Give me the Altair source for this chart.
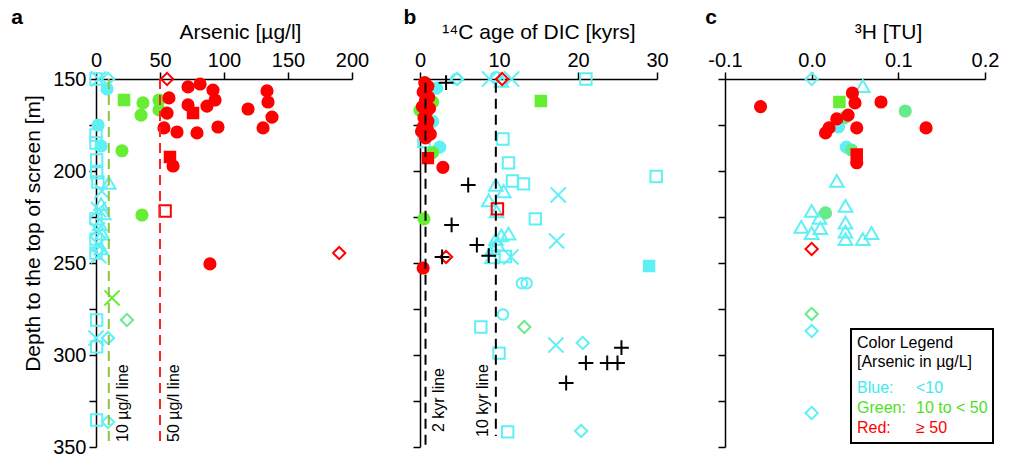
import altair as alt
import pandas as pd

# ---------------- data (x value, depth in m) ----------------
# Panel a: Arsenic [ug/l]
a_blue_osquare = [(0, 150), (0, 180.4), (0, 184.8), (0.5, 194), (0.5, 201), (1.5, 206), (0, 226),
                  (0, 237), (0, 244.6), (0.5, 281), (0.5, 295.6), (0.5, 335.3)]
a_blue_x = [(2, 150), (4.5, 211), (2, 221), (1, 232), (2, 240), (2, 246), (0, 290.8)]
a_blue_odiamond = [(9.4, 150), (9.4, 290.8), (9.4, 336.4)]
a_blue_otriangle = [(10, 206.5), (4, 218), (6, 223), (3, 229), (5, 234), (4, 242)]
a_blue_fcircle = [(8.6, 155.4), (1.6, 175), (3.9, 186.4)]
a_green_fsquare = [(21.9, 161.4)]
a_green_fcircle = [(36.7, 163), (49.2, 161.4), (35.2, 169.6), (49.2, 166.8), (20.3, 189), (35.9, 223.9)]
a_green_x = [(12.5, 269)]
a_mint_odiamond = [(24.2, 281)]
a_red_fcircle = [(71.9, 154.3), (81.3, 152.7), (91.4, 156), (133.6, 156.5), (57, 160.3), (71.9, 164.1),
                 (86.7, 164.7), (93, 161.4), (134.4, 162.5), (118.8, 166.3), (55.5, 168.5), (137.5, 170.7),
                 (53.1, 176.6), (63.3, 178.8), (78.9, 179.3), (95.3, 176.1), (130.5, 176.6), (60.2, 197.3),
                 (89, 250.5)]
a_red_fsquare = [(75.8, 168.5), (57.8, 192.4)]
a_red_odiamond = [(55.5, 150), (190, 244.6)]
a_red_osquare = [(54, 221.7)]
a_limits = [10, 50]
a_limit_labels = ["10 µg/l line", "50 µg/l line"]

# Panel b: 14C age of DIC [kyrs]
b_blue_odiamond = [(4.7, 150), (20.6, 293.5), (20.4, 341.3)]
b_blue_ocircle = [(4.6, 150), (9.6, 149), (12.9, 261), (13.5, 261), (10.5, 278)]
b_blue_x = [(8.8, 150), (11.6, 150), (17.5, 213), (17.3, 238), (11.5, 246.7), (17.2, 294.6)]
b_blue_otriangle = [(10.3, 151), (9.6, 207.6), (8.7, 216), (10.6, 211), (9.7, 222), (9.6, 237),
                    (10.3, 235), (11.2, 234), (9.2, 242), (9.8, 240), (9.1, 247)]
b_blue_osquare = [(21, 150), (0.5, 184), (10.5, 182.6), (11.2, 195.6), (11.7, 205.4), (13.1, 207),
                  (14.6, 226), (29.9, 203), (10.8, 246.5), (7.7, 284.8), (10, 299), (11.1, 341.8)]
b_blue_fcircle = [(2.1, 155), (1.6, 173), (2.5, 187)]
b_blue_fsquare = [(29, 251.6)]
b_green_fcircle = [(0, 167), (1.6, 162.5), (1.6, 190), (0.5, 226)]
b_green_fsquare = [(15.3, 162)]
b_mint_odiamond = [(13.2, 284.8)]
b_red_fcircle = [(0.6, 152), (1.0, 154), (0.4, 157), (1.1, 160), (0.7, 162), (0.3, 165), (1.2, 166),
                 (0.8, 168), (0.5, 171), (1.0, 173), (0.4, 176), (0.9, 177), (0.2, 178.5), (1.3, 180),
                 (0.7, 182), (2.9, 198), (0.4, 252.7)]
b_red_fsquare = [(1.0, 193)]
b_red_odiamond = [(10.4, 150), (3.3, 246.7)]
b_red_osquare = [(9.8, 220.6)]
b_black_plus = [(3.3, 152), (6.1, 207.6), (4, 229.3), (7.2, 240.2), (2.8, 246.7), (8.7, 246),
                (25.5, 296), (21, 304.3), (23.7, 304.3), (25, 304.3), (18.5, 315.2)]
b_limits = [0.7, 9.6]
b_limit_labels = ["2 kyr line", "10 kyr line"]

# Panel c: 3H [TU]
c_blue_odiamond = [(0, 150), (0, 287), (0, 331.5)]
c_blue_otriangle = [(0.059, 153.8), (0.029, 205.4), (0.039, 219), (0.0, 221.7), (0.009, 225.5),
                    (-0.012, 230.4), (0.010, 231), (0.0, 233.7), (0.039, 228), (0.039, 233),
                    (0.039, 237), (0.059, 237), (0.069, 233.7)]
c_blue_fcircle = [(0.031, 176), (0.040, 187)]
c_green_fsquare = [(0.032, 162.5)]
c_mint_fcircle = [(0.038, 171), (0.108, 167.4), (0.046, 188.6), (0.016, 222.8)]
c_mint_odiamond = [(0, 277.7)]
c_red_fcircle = [(0.047, 157.6), (0.050, 163), (0.080, 162.5), (-0.059, 165), (0.042, 169.6),
                 (0.029, 171.7), (0.052, 176.6), (0.132, 176.6), (0.020, 176.6), (0.016, 179.3),
                 (0.052, 195.5)]
c_red_fsquare = [(0.052, 191)]
c_red_odiamond = [(0, 242.4)]

depth_ticks = [150, 175, 200, 225, 250, 275, 300, 325, 350]

# ---------------- styles ----------------
GROUPS = ["blue", "green", "mint", "red", "black"]
GROUP_COLORS = ["#5EF0F5", "#66EE33", "#66EB8C", "#FF0000", "#000000"]
MARKERS = ["fcircle", "fsquare", "osquare", "odiamond", "otriangle", "ocircle", "x", "plus"]
SHAPES = ["circle", "square", "square", "diamond", "triangle-up", "circle",
          "M-1,-1L1,1M-1,1L1,-1", "M-1,0L1,0M0,-1L0,1"]
SIZES = [125, 110, 130, 150, 185, 110, 230, 220]
FONT = "Liberation Sans"


def build(series):
    rows = []
    for rank, (group, marker, pts) in enumerate(series):
        for x, d in pts:
            rows.append({"x": x, "depth": d, "group": group, "marker": marker,
                         "fillkey": group if marker.startswith("f") else "none",
                         "rank": GROUPS.index(group) * 100 + rank})
    return pd.DataFrame(rows).sort_values("rank", kind="stable")


df_a = build([("blue", "osquare", a_blue_osquare), ("blue", "x", a_blue_x),
              ("blue", "odiamond", a_blue_odiamond), ("blue", "otriangle", a_blue_otriangle),
              ("blue", "fcircle", a_blue_fcircle), ("green", "fsquare", a_green_fsquare),
              ("green", "fcircle", a_green_fcircle), ("green", "x", a_green_x),
              ("mint", "odiamond", a_mint_odiamond), ("red", "fcircle", a_red_fcircle),
              ("red", "fsquare", a_red_fsquare), ("red", "odiamond", a_red_odiamond),
              ("red", "osquare", a_red_osquare)])
df_b = build([("blue", "odiamond", b_blue_odiamond), ("blue", "ocircle", b_blue_ocircle),
              ("blue", "x", b_blue_x), ("blue", "otriangle", b_blue_otriangle),
              ("blue", "osquare", b_blue_osquare), ("blue", "fcircle", b_blue_fcircle),
              ("blue", "fsquare", b_blue_fsquare), ("green", "fcircle", b_green_fcircle),
              ("green", "fsquare", b_green_fsquare), ("mint", "odiamond", b_mint_odiamond),
              ("red", "fcircle", b_red_fcircle), ("red", "fsquare", b_red_fsquare),
              ("red", "odiamond", b_red_odiamond), ("red", "osquare", b_red_osquare),
              ("black", "plus", b_black_plus)])
df_c = build([("blue", "odiamond", c_blue_odiamond), ("blue", "otriangle", c_blue_otriangle),
              ("blue", "fcircle", c_blue_fcircle), ("green", "fsquare", c_green_fsquare),
              ("mint", "fcircle", c_mint_fcircle), ("mint", "odiamond", c_mint_odiamond),
              ("red", "fcircle", c_red_fcircle), ("red", "fsquare", c_red_fsquare),
              ("red", "odiamond", c_red_odiamond)])

YSCALE = alt.Scale(domain=[150, 350], reverse=True, nice=False, zero=False)
H = 368


def points(df, xscale, xaxis, yaxis):
    return alt.Chart(df).mark_point(opacity=1, strokeWidth=2).encode(
        x=alt.X("x:Q", scale=xscale, axis=xaxis),
        y=alt.Y("depth:Q", scale=YSCALE, axis=yaxis),
        shape=alt.Shape("marker:N", scale=alt.Scale(domain=MARKERS, range=SHAPES), legend=None),
        size=alt.Size("marker:N", scale=alt.Scale(type="ordinal", domain=MARKERS, range=SIZES),
                      legend=None),
        stroke=alt.Stroke("group:N", scale=alt.Scale(domain=GROUPS, range=GROUP_COLORS), legend=None),
        fill=alt.Fill("fillkey:N", scale=alt.Scale(domain=GROUPS + ["none"],
                                                   range=GROUP_COLORS + ["transparent"]), legend=None),
        order=alt.Order("rank:Q"),
    )


def dashed(value, color, top=150, bottom=350):
    d = pd.DataFrame({"x": [value], "depth": [top], "depth2": [bottom]})
    return alt.Chart(d).mark_rule(color=color, strokeWidth=2, strokeDash=[10, 6]).encode(
        x="x:Q", y="depth:Q", y2="depth2:Q")


def line_label(value, text, dx, dy, depth=350):
    d = pd.DataFrame({"x": [value], "depth": [depth], "t": [text]})
    return alt.Chart(d).mark_text(angle=270, align="left", baseline="middle", dx=dx, dy=dy,
                                  fontSize=16, font=FONT, color="black").encode(
        x="x:Q", y="depth:Q", text="t:N")


def fixed_text(text, x, y, size=16, color="black", bold=False, align="left"):
    d = pd.DataFrame({"t": [text]})
    return alt.Chart(d).mark_text(align=align, baseline="middle", fontSize=size, font=FONT,
                                  color=color, fontWeight="bold" if bold else "normal").encode(
        text="t:N", x=alt.value(x), y=alt.value(y))


y_axis_a = alt.Axis(values=depth_ticks, labelExpr="datum.value % 50 == 0 ? datum.label : ''",
                    title="Depth to the top of screen [m]", titleX=-63, titleY=154,
                    titleBaseline="middle", titleAlign="center", titleAngle=270, labelPadding=3)
y_axis_other = alt.Axis(values=depth_ticks, labels=False, title=None)

# Panel a
anchor = alt.Chart(pd.DataFrame({"k": [0]})).mark_rect(opacity=0).encode(
    x=alt.value(-96), x2=alt.value(-95), y=alt.value(-79), y2=alt.value(-78))
pa = alt.layer(
    points(df_a, alt.Scale(domain=[0, 200], nice=False, zero=False),
           alt.Axis(orient="top", values=[0, 50, 100, 150, 200], title="Arsenic [µg/l]",
                    titleX=144, titleY=-41, titleBaseline="alphabetic", titleAlign="center",
                    labelPadding=2), y_axis_a),
    dashed(a_limits[0], "#8CC63F"), dashed(a_limits[1], "#FF2020"),
    line_label(a_limits[0], a_limit_labels[0], 5, 14),
    line_label(a_limits[1], a_limit_labels[1], 5, 14),
    fixed_text("a", -79, -61, size=21, bold=True, align="center"),
    anchor,
).properties(width=256, height=H)

# Panel b
pb = alt.layer(
    points(df_b, alt.Scale(domain=[0, 30], nice=False, zero=False),
           alt.Axis(orient="top", values=[0, 10, 20, 30], title="¹⁴C age of DIC [kyrs]",
                    titleY=-41, titleBaseline="alphabetic", titleAlign="center", labelPadding=2),
           y_axis_other),
    dashed(b_limits[0], "black", 152, 350), dashed(b_limits[1], "black", 152, 344),
    line_label(b_limits[0], b_limit_labels[0], 15, 13),
    line_label(b_limits[1], b_limit_labels[1], 10, -13),
    fixed_text("b", -10, -61, size=21, bold=True, align="center"),
).properties(width=237, height=H)

# Panel c with color legend box
legend_box = alt.Chart(pd.DataFrame({"k": [0]})).mark_rect(
    fill="white", stroke="black", strokeWidth=2).encode(
    x=alt.value(126), x2=alt.value(268), y=alt.value(250), y2=alt.value(364))
legend_rows = [("Color Legend", "", "black"), ("[Arsenic in µg/L]", "", "black"),
               ("Blue:", "<10", "#3FE8F0"), ("Green:", "10 to < 50", "#4FE01F"),
               ("Red:", "≥ 50", "#FF0000")]
legend_y = [264, 283, 309, 329, 349]
legend_layers = [legend_box]
for (lab, val, col), yy in zip(legend_rows, legend_y):
    legend_layers.append(fixed_text(lab, 132, yy, size=16, color=col))
    if val:
        legend_layers.append(fixed_text(val, 191, yy, size=16, color=col))

pc = alt.layer(
    points(df_c, alt.Scale(domain=[-0.1, 0.2], nice=False, zero=False),
           alt.Axis(orient="top", values=[-0.1, 0, 0.1, 0.2], title="³H [TU]",
                    labelExpr="datum.value < 0 ? '-' + format(-datum.value, '.1f') : format(datum.value, '.1f')",
                    titleX=163, titleY=-41, titleBaseline="alphabetic", titleAlign="center",
                    labelPadding=2), y_axis_other),
    fixed_text("c", -14, -61, size=21, bold=True, align="center"),
    *legend_layers,
).properties(width=260, height=H)

chart = alt.hconcat(pa, pb, pc, spacing=68, bounds="flush").properties(
    padding=0, background="white"
).configure_view(stroke=None).configure_axis(
    domainColor="black", domainWidth=1.5, tickColor="black", tickWidth=1.5, tickSize=7,
    labelFont=FONT, labelFontSize=20, labelColor="black", titleFont=FONT, titleFontSize=21,
    titleFontWeight="normal", titleColor="black", grid=False, labelFlush=False, labelOverlap=False,
)

chart.save("out.html", embed_options={"renderer": "svg", "actions": False})
